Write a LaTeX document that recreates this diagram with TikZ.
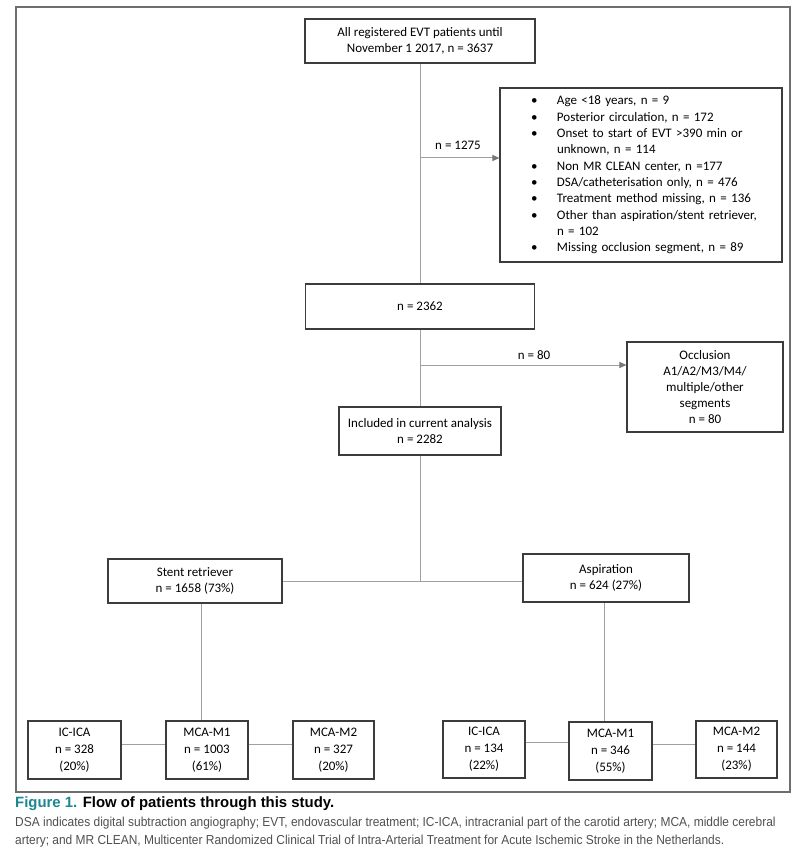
\documentclass[tikz,border=0pt]{standalone}
\usepackage{fontspec}
\setmainfont{Carlito}
\newfontfamily\capfont[FakeStretch=0.92]{Liberation Sans}
\newfontfamily\titfont{Liberation Sans}
\usetikzlibrary{arrows.meta}
\definecolor{boxline}{HTML}{3C3C3C}
\definecolor{conn}{HTML}{A0A0A0}
\definecolor{framec}{HTML}{6E6E6E}
\definecolor{tealc}{HTML}{1A8791}
\definecolor{capgray}{HTML}{505050}
\newcommand\bul{\hspace*{31pt}\makebox[26pt][l]{•}}
\newcommand\cont{\hspace*{57pt}}
\begin{document}
\begin{tikzpicture}[x=1pt,y=-1pt,
  box/.style={draw=boxline, line width=1.1pt, fill=white, inner sep=0pt, align=center,
    font=\fontsize{13}{16.5}\selectfont},
  link/.style={draw=conn, line width=1pt},
  arr/.style={link, -{Triangle[length=7pt,width=6pt,fill=conn!75!black,color=conn!75!black]}},
  lbl/.style={inner sep=0pt, font=\fontsize{13}{16}\selectfont},
  capline/.style={anchor=west, inner sep=0pt, text=capgray, font=\capfont\fontsize{13}{15}\selectfont}]
\useasboundingbox (0,0) rectangle (802,858);
\fill[white] (0,0) rectangle (802,858);
\draw[draw=framec, line width=2pt] (16,7) rectangle (790,792);

\node[box, minimum width=230pt, minimum height=44pt] (top) at (420,41)
  {All registered EVT patients until\\November 1 2017, n = 3637};
\node[box, minimum width=282pt, minimum height=174pt, text width=282pt, align=left,
  font=\fontsize{13}{16.3}\selectfont] (excl) at (641,175) {%
\bul Age <18 years, n = 9\\
\bul Posterior circulation, n = 172\\
\bul Onset to start of EVT >390 min or\\
\cont unknown, n = 114\\
\bul Non MR CLEAN center, n =177\\
\bul DSA/catheterisation only, n = 476\\
\bul Treatment method missing, n = 136\\
\bul Other than aspiration/stent retriever,\\
\cont n = 102\\
\bul Missing occlusion segment, n = 89};
\node[box, minimum width=229pt, minimum height=45pt] (n2362) at (420,306.5) {n = 2362};
\node[box, minimum width=156pt, minimum height=90pt, font=\fontsize{13}{15.8}\selectfont] (occl) at (705,387)
  {Occlusion\\A1/A2/M3/M4/\\multiple/other\\segments\\n = 80};
\node[box, minimum width=162pt, minimum height=48pt] (incl) at (420,431)
  {Included in current analysis\\n = 2282};
\node[box, minimum width=174pt, minimum height=44pt] (stent) at (195,581)
  {Stent retriever\\n = 1658 (73\%)};
\node[box, minimum width=166pt, minimum height=48pt] (asp) at (606,578)
  {Aspiration\\n = 624 (27\%)};

\node[box, minimum width=93pt, minimum height=58pt, font=\fontsize{13}{17}\selectfont] (ic1) at (74.5,750) {IC-ICA\\n = 328\\(20\%)};
\node[box, minimum width=82pt, minimum height=58pt, font=\fontsize{13}{17}\selectfont] (m11) at (207,750) {MCA-M1\\n = 1003\\(61\%)};
\node[box, minimum width=81pt, minimum height=58pt, font=\fontsize{13}{17}\selectfont] (m21) at (333.5,750) {MCA-M2\\n = 327\\(20\%)};
\node[box, minimum width=82pt, minimum height=57pt, font=\fontsize{13}{17}\selectfont] (ic2) at (484,749.5) {IC-ICA\\n = 134\\(22\%)};
\node[box, minimum width=83pt, minimum height=58pt, font=\fontsize{13}{17}\selectfont] (m12) at (610.5,751) {MCA-M1\\n = 346\\(55\%)};
\node[box, minimum width=81pt, minimum height=57pt, font=\fontsize{13}{17}\selectfont] (m22) at (736.5,749.5) {MCA-M2\\n = 144\\(23\%)};

\coordinate (b1) at (420,158);
\coordinate (b2) at (420,365);
\draw[link] (top.south) -- (n2362.north);
\draw[arr] (b1) -- (b1 -| excl.west);
\node[lbl] (l1) at (458,145) {n = 1275};
\draw[link] (n2362.south) -- (incl.north);
\draw[arr] (b2) -- (b2 -| occl.west);
\node[lbl] (l2) at (534,355) {n = 80};
\draw[link] (incl.south) -- (incl.south |- stent.east);
\draw[link] (stent.east) -- (stent.east -| asp.west);
\draw[link] ([xshift=6pt]stent.south) -- ([xshift=6pt]stent.south |- m11.north);
\draw[link] ([xshift=-2pt]asp.south) -- ([xshift=-2pt]asp.south |- m12.north);
\draw[link] ([yshift=6pt]ic1.east) -- ([yshift=6pt]ic1.east -| m11.west);
\draw[link] ([yshift=6pt]m11.east) -- ([yshift=6pt]m11.east -| m21.west);
\draw[link] ([yshift=7pt]ic2.east) -- ([yshift=7pt]ic2.east -| m12.west);
\draw[link] ([yshift=7pt]m12.east) -- ([yshift=7pt]m12.east -| m22.west);

\node[anchor=west, inner sep=0pt, font=\titfont\bfseries\fontsize{14.9}{16}\selectfont] (cap) at (15,803.5)
  {\textcolor{tealc}{Figure 1.} Flow of patients through this study.};
\node[capline] (c1) at (15,823) {DSA indicates digital subtraction angiography; EVT, endovascular treatment; IC-ICA, intracranial part of the carotid artery; MCA, middle cerebral};
\node[capline] (c2) at (15,841) {artery; and MR CLEAN, Multicenter Randomized Clinical Trial of Intra-Arterial Treatment for Acute Ischemic Stroke in the Netherlands.};
\end{tikzpicture}
\end{document}
